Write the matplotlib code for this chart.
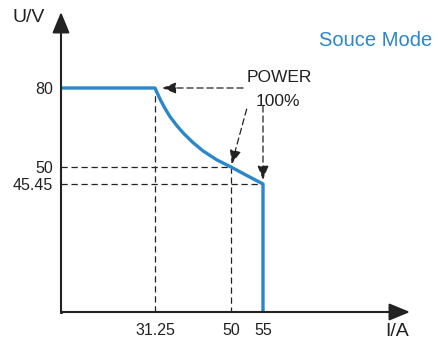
import numpy as np
import matplotlib
matplotlib.use("Agg")
import matplotlib.pyplot as plt

plt.rcParams['font.family'] = ['Liberation Sans', 'DejaVu Sans']

# ---- data ----
curve_I = [0, 31.25, 32.48, 33.72, 34.95, 36.68, 38.40, 40.63, 43.09, 46.55, 50.0, 52.5, 55.0, 55.0]
curve_U = [80, 80, 75.82, 72.22, 69.14, 65.61, 62.61, 59.27, 56.11, 52.66, 50.0, 47.70, 45.45, 0]
xtick_vals = [31.25, 50, 55]
xtick_labels = ["31.25", "50", "55"]
ytick_vals = [45.45, 50, 80]
ytick_labels = ["45.45", "50", "80"]
power_I = 31.25
power_U = 80
mid_I = 50
mid_U = 50
end_I = 55
end_U = 45.45

# ---- schematic (non-linear) axis scales ----
x_knots = [0, 31.25, 50, 55, 80]
x_pos = [0, 94, 170, 202, 349]
y_knots = [0, 45.45, 50, 80, 110]
y_pos = [0, 128, 145, 224, 300]

def xf(v):
    return np.interp(v, x_knots, x_pos)
def xi(v):
    return np.interp(v, x_pos, x_knots)
def yf(v):
    return np.interp(v, y_knots, y_pos)
def yi(v):
    return np.interp(v, y_pos, y_knots)

W, H = 438, 346
fig = plt.figure(figsize=(W / 100, H / 100), dpi=100)
ax = fig.add_axes([61 / W, (H - 312) / H, (410 - 61) / W, (312 - 12) / H])
ax.set_xscale('function', functions=(xf, xi))
ax.set_yscale('function', functions=(yf, yi))
ax.set_xlim(0, 80)
ax.set_ylim(0, 110)
for s in ax.spines.values():
    s.set_visible(False)
ax.patch.set_alpha(0)

blue = '#2b87c9'
dark = '#222222'
dash = (0, (5, 3))
dlw = 0.9

# dashed guide lines
ax.plot([power_I, power_I], [0, power_U], color=dark, lw=dlw, ls=dash)
ax.plot([0, mid_I, mid_I], [mid_U, mid_U, 0], color=dark, lw=dlw, ls=dash)
ax.plot([0, end_I], [end_U, end_U], color=dark, lw=dlw, ls=dash)

# main curve
ax.plot(curve_I, curve_U, color=blue, lw=2.4, solid_joinstyle='round',
        solid_capstyle='butt', zorder=3)

# dashed arrows
aprops = dict(arrowstyle='-|>,head_length=0.7,head_width=0.28', mutation_scale=12,
              color=dark, lw=dlw, linestyle=dash, shrinkA=0, shrinkB=0)
ax.annotate('', xy=(33.0, power_U), xytext=(51.9, power_U), arrowprops=aprops)
ax.annotate('', xy=(50.1, 51.1), xytext=(52.45, 72.0), arrowprops=aprops)
ax.annotate('', xy=(end_I, 46.6), xytext=(end_I, 73.2), arrowprops=aprops)

ax.text(57.7, 84.2, 'POWER', fontsize=12.5, ha='center', va='center', color=dark)
ax.text(57.6, 74.7, '100%', fontsize=12.5, ha='center', va='center', color=dark)

# axis arrows
axprops = dict(arrowstyle='-|>,head_length=0.85,head_width=0.35', mutation_scale=15,
               color=dark, lw=1.5, shrinkA=0, shrinkB=0)
ax.annotate('', xy=(1, 0), xytext=(0, 0), xycoords='axes fraction',
            textcoords='axes fraction', arrowprops=axprops)
ax.annotate('', xy=(0, 1), xytext=(0, 0), xycoords='axes fraction',
            textcoords='axes fraction', arrowprops=axprops)
ax.plot([0], [0], marker='s', ms=1.2, color=dark, clip_on=False)

ax.set_xticks(xtick_vals)
ax.set_xticklabels(xtick_labels)
ax.set_yticks(ytick_vals)
ax.set_yticklabels(ytick_labels)
ax.tick_params(axis='x', length=0, pad=8, labelsize=11.5, labelcolor=dark)
ax.tick_params(axis='y', length=0, pad=6, labelsize=11.5, labelcolor=dark)
ax.minorticks_off()

fig.text(29 / W, 1 - 18 / H, 'U/V', fontsize=14, ha='center', va='center', color=dark)
fig.text(397 / W, 1 - 332 / H, 'I/A', fontsize=14, ha='center', va='center', color=dark)
fig.text(432 / W, 1 - 40 / H, 'Souce Mode', fontsize=14.5, ha='right', va='center', color=blue)

fig.savefig('out.png', dpi=100)
